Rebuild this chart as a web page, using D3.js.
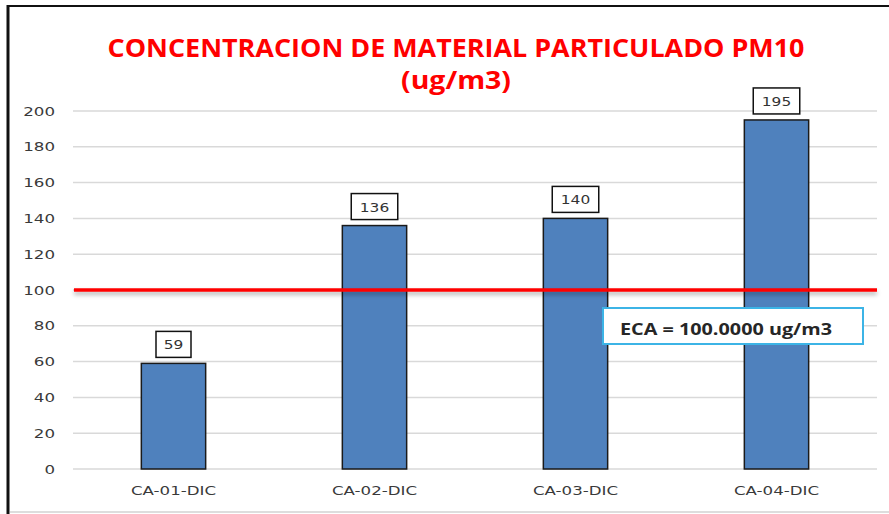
<!DOCTYPE html>
<html lang='es'>
<head>
  <meta charset='utf-8'>
  <title>PM10</title>
  <script src='https://d3js.org/d3.v7.min.js'></script>
  <style>
    body { margin: 0; background: #fff; }
    text { font-family: 'DejaVu Sans', Verdana, sans-serif; }
  </style>
</head>
<body>
<script>
// data
var stations = ['CA-01-DIC', 'CA-02-DIC', 'CA-03-DIC', 'CA-04-DIC'];
var pm10 = [59, 136, 140, 195];
var yTicks = [0, 20, 40, 60, 80, 100, 120, 140, 160, 180, 200];
var eca = 100;
var ecaLabel = 'ECA = 100.0000 ug/m3';

var width = 889, height = 514;
var svg = d3.select('body').append('svg')
  .attr('width', width)
  .attr('height', height);

// shadow under the red line (user space, a flat line has no bbox height)
var defs = svg.append('defs');
var sh = defs.append('filter').attr('id', 'shadow')
  .attr('filterUnits', 'userSpaceOnUse')
  .attr('x', 60).attr('y', 270).attr('width', 830).attr('height', 40);
sh.append('feDropShadow').attr('dx', 0).attr('dy', 3).attr('stdDeviation', 2)
  .attr('flood-color', '#000').attr('flood-opacity', 0.3);

// frame
svg.append('line').attr('x1', 8).attr('x2', 889).attr('y1', 6).attr('y2', 6)
  .attr('stroke', '#111').attr('stroke-width', 2);
svg.append('line').attr('x1', 8).attr('x2', 8).attr('y1', 5).attr('y2', 514)
  .attr('stroke', '#111').attr('stroke-width', 3);
svg.append('line').attr('x1', 10).attr('x2', 889).attr('y1', 512).attr('y2', 512)
  .attr('stroke', '#bbb').attr('stroke-width', 1);

// scales
var x = d3.scaleBand().domain(stations).range([73, 877]).paddingInner(0.68).paddingOuter(0.34);
var y = d3.scaleLinear().domain([0, 200]).range([469, 111]);

// gridlines
svg.append('g').selectAll('line').data(yTicks).enter().append('line')
  .attr('x1', 73).attr('x2', 877)
  .attr('y1', d => y(d)).attr('y2', d => y(d))
  .attr('stroke', '#d9d9d9').attr('stroke-width', 1.5);

// y axis labels
var yAxis = svg.append('g').attr('transform', 'translate(62,0)')
  .call(d3.axisLeft(y).tickValues(yTicks).tickSize(0).tickPadding(7));
yAxis.select('.domain').remove();
yAxis.selectAll('text')
  .attr('font-size', 13).attr('fill', '#3a3a3a')
  .attr('textLength', d => String(d).length * 10.6)
  .attr('lengthAdjust', 'spacingAndGlyphs')
  .style('font-family', "'DejaVu Sans', sans-serif");

// x axis labels
var xAxis = svg.append('g').attr('transform', 'translate(0,469)')
  .call(d3.axisBottom(x).tickSize(0).tickPadding(17));
xAxis.select('.domain').remove();
xAxis.selectAll('text')
  .attr('font-size', 13).attr('fill', '#3a3a3a')
  .attr('textLength', 85).attr('lengthAdjust', 'spacingAndGlyphs')
  .style('font-family', "'DejaVu Sans', sans-serif");

// bars
svg.append('g').selectAll('rect').data(pm10).enter().append('rect')
  .attr('x', (d, i) => x(stations[i]))
  .attr('y', d => y(d))
  .attr('width', x.bandwidth())
  .attr('height', d => y(0) - y(d))
  .attr('fill', '#4f81bd')
  .attr('stroke', '#1a1a1a').attr('stroke-width', 1.5);

// value labels in boxes
var lab = svg.append('g').selectAll('g').data(pm10).enter().append('g')
  .attr('transform', (d, i) => 'translate(' + (x(stations[i]) + x.bandwidth() / 2) + ',' + (y(d) - 19) + ')');
lab.append('rect')
  .attr('x', d => -(String(d).length * 11.5 + 12) / 2)
  .attr('y', -13)
  .attr('width', d => String(d).length * 11.5 + 12)
  .attr('height', 26)
  .attr('fill', '#fff').attr('stroke', '#111').attr('stroke-width', 1.5);
lab.append('text')
  .attr('text-anchor', 'middle').attr('y', 5)
  .attr('font-size', 13).attr('fill', '#333')
  .attr('textLength', d => String(d).length * 9.8)
  .attr('lengthAdjust', 'spacingAndGlyphs')
  .text(d => d);

// ECA line
svg.append('line')
  .attr('x1', 74).attr('x2', 877)
  .attr('y1', y(eca)).attr('y2', y(eca))
  .attr('stroke', '#ff0000').attr('stroke-width', 3.5)
  .attr('filter', 'url(#shadow)');

// ECA box
svg.append('rect').attr('x', 603).attr('y', 308).attr('width', 260).attr('height', 36)
  .attr('fill', '#fff').attr('stroke', '#3cb4e6').attr('stroke-width', 2);
svg.append('text').attr('x', 620).attr('y', 335)
  .attr('font-size', 16).attr('font-weight', 'bold').attr('fill', '#262626')
  .attr('textLength', 212).attr('lengthAdjust', 'spacingAndGlyphs')
  .style('font-family', "'Open Sans', sans-serif")
  .text(ecaLabel);

// title
var title = svg.append('g').attr('fill', '#ff0000').attr('font-weight', 'bold');
title.append('text').attr('x', 456).attr('y', 57).attr('text-anchor', 'middle')
  .attr('font-size', 25).attr('textLength', 697).attr('lengthAdjust', 'spacingAndGlyphs')
  .style('font-family', "'Open Sans', sans-serif")
  .text('CONCENTRACION DE MATERIAL PARTICULADO PM10');
title.append('text').attr('x', 456).attr('y', 89).attr('text-anchor', 'middle')
  .attr('font-size', 25).attr('textLength', 110).attr('lengthAdjust', 'spacingAndGlyphs')
  .style('font-family', "'Open Sans', sans-serif")
  .text('(ug/m3)');
</script>
</body>
</html>
